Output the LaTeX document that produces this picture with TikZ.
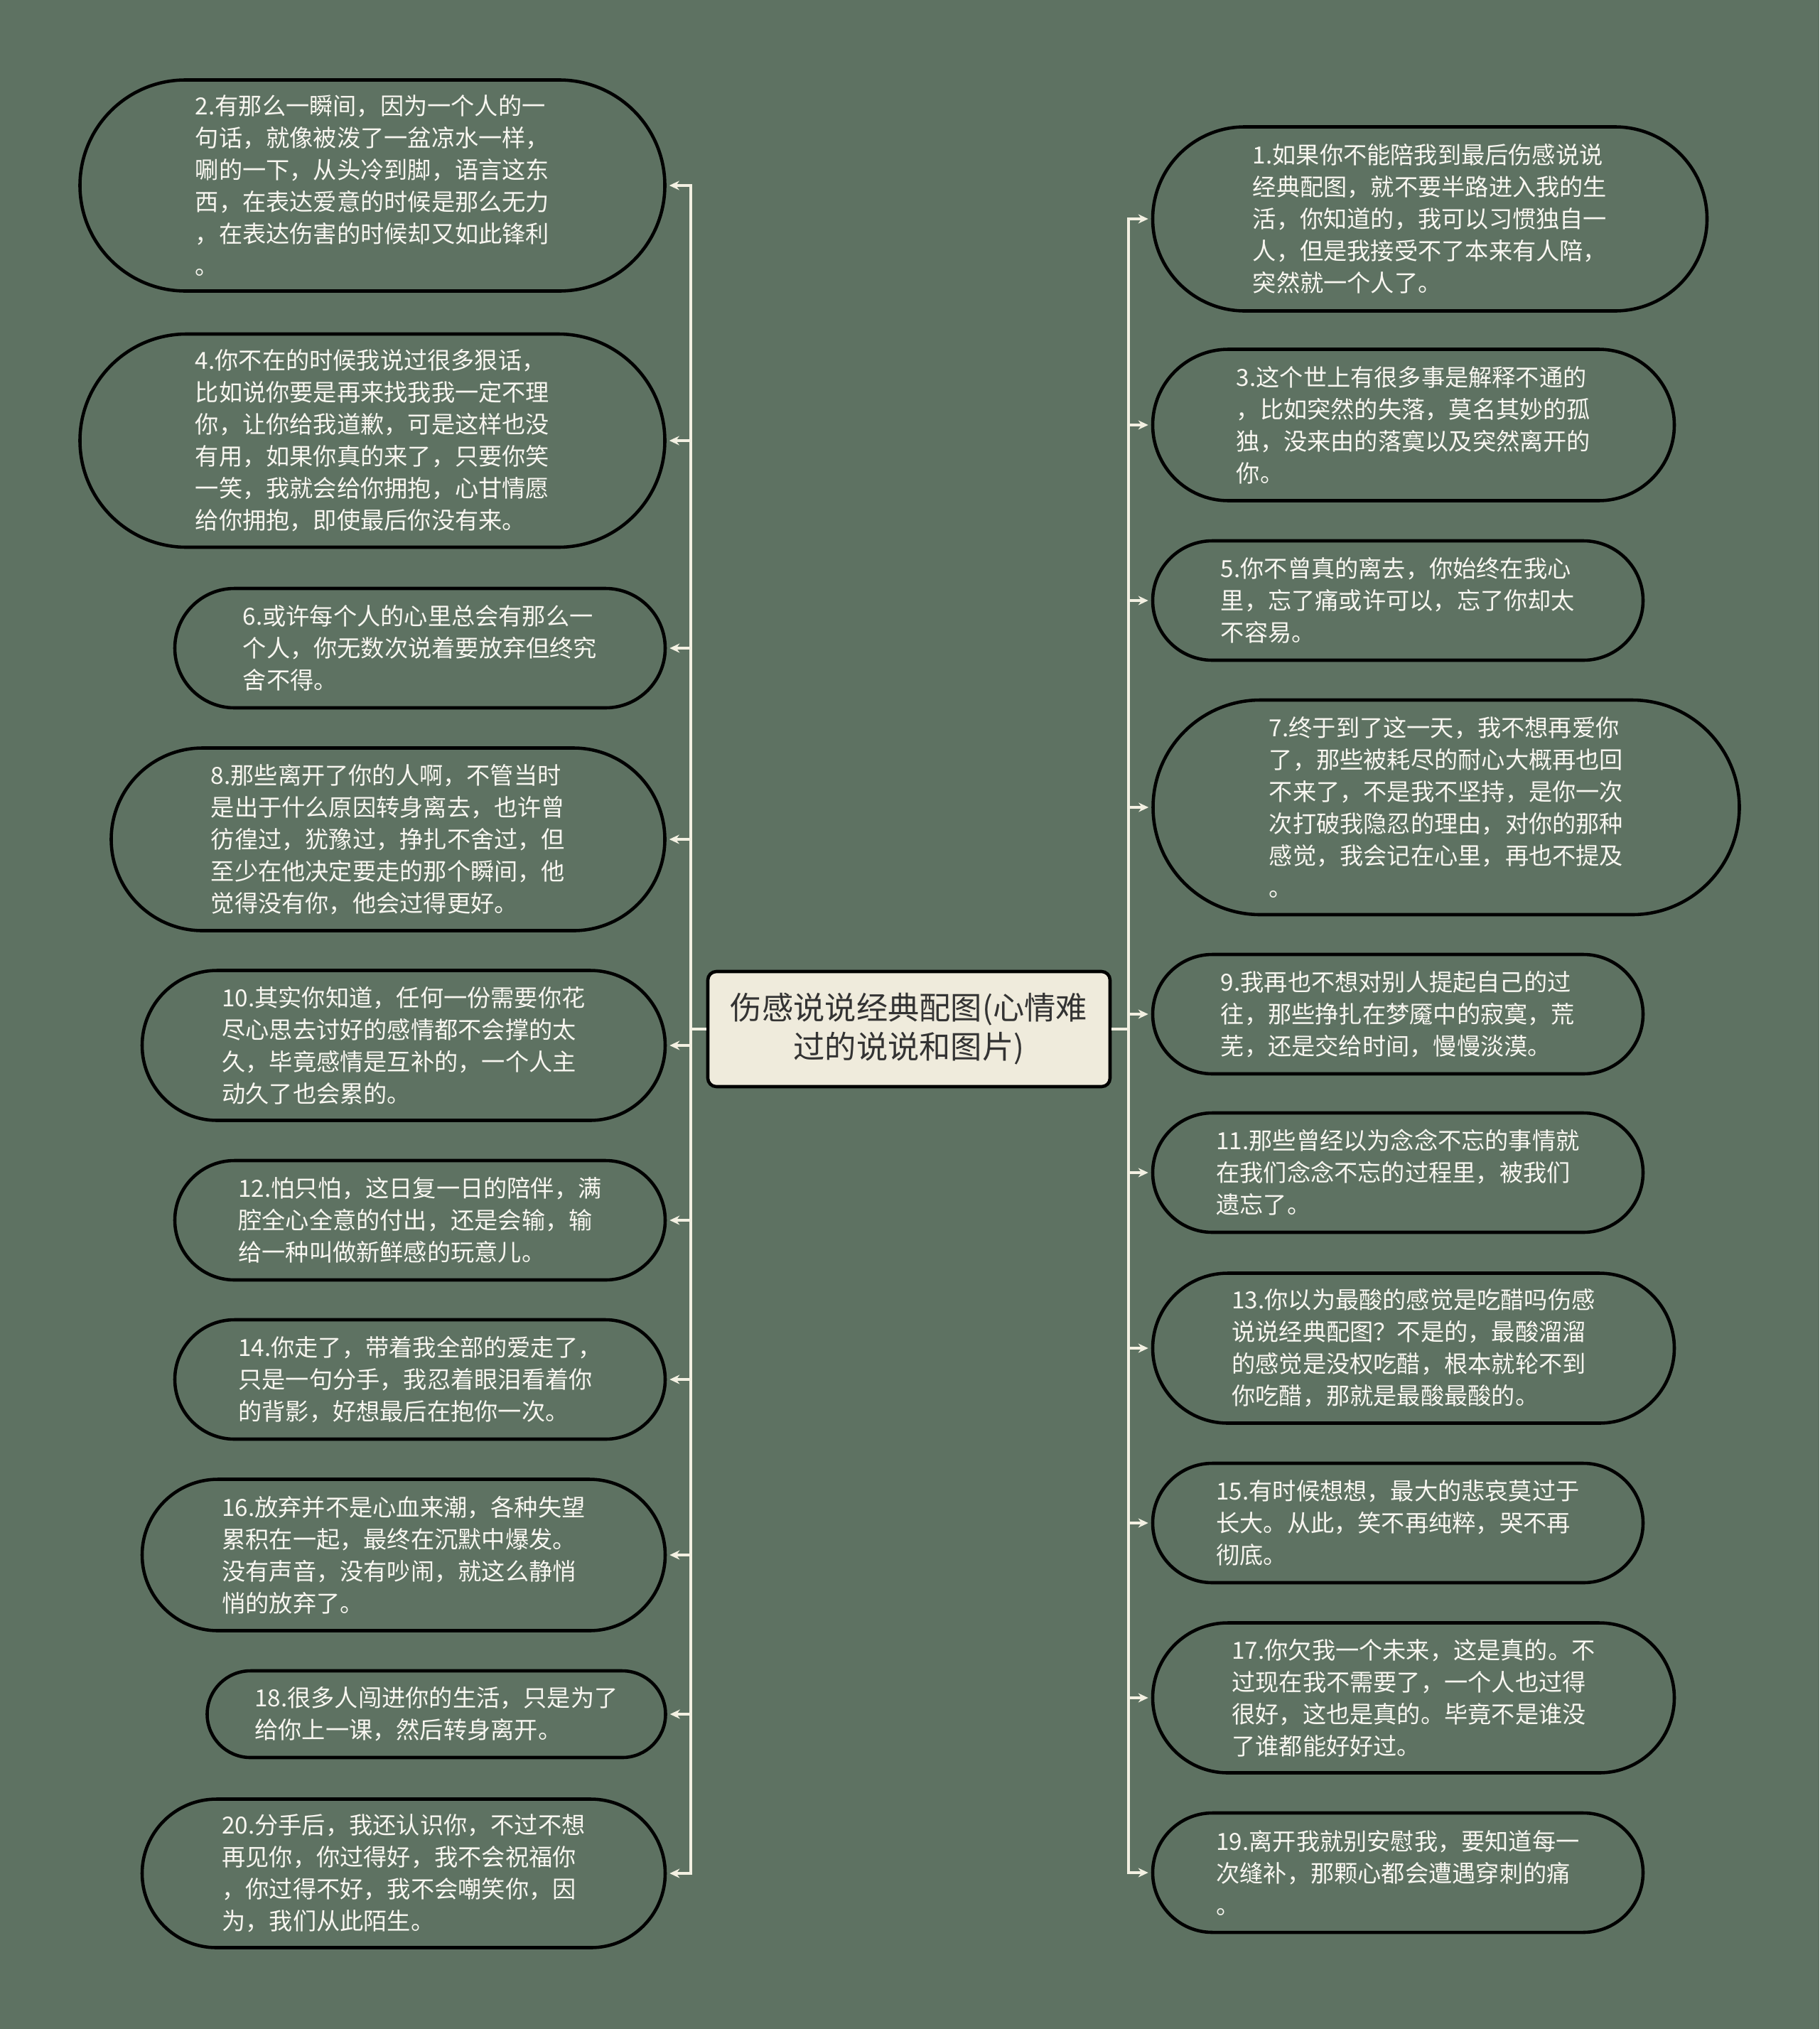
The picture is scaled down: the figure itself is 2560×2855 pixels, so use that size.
\documentclass[tikz,border=0pt]{standalone}
\usepackage{fontspec}
\setmainfont{Noto Sans CJK SC}
\usetikzlibrary{shapes.misc,arrows.meta}
\definecolor{bgcol}{HTML}{5E7262}
\definecolor{linecol}{HTML}{F3F0E2}
\definecolor{rootfill}{HTML}{EFEBDC}
\definecolor{leaftext}{HTML}{F8F6F0}
\tikzset{
  leaf/.style={draw=black,line width=1.3pt,rounded rectangle,fill=bgcol,text=leaftext,align=left,inner sep=0pt,font=\fontsize{9.45}{12.8}\selectfont},
  root/.style={draw=black,line width=1.3pt,rounded corners=1.2mm,fill=rootfill,text=black!80,align=center,minimum width=56.6mm,minimum height=16.2mm,font=\fontsize{12.6}{15.6}\selectfont},
  link/.style={draw=linecol,line width=1.1pt,shorten >=0.4mm,-{Stealth[length=1.4mm,width=1.3mm]}}
}
\begin{document}
\begin{tikzpicture}[x=0.1mm,y=-0.1mm]
  \fill[bgcol] (0,0) rectangle (2560,2855);
  \useasboundingbox (0,0) rectangle (2560,2855);
  \node[root] (root) at (1279,1448) {伤感说说经典配图(心情难\\过的说说和图片)};

  \node[leaf,minimum width=82.3mm,minimum height=29.7mm] (l2) at (524,261) {2.有那么一瞬间，因为一个人的一\\句话，就像被泼了一盆凉水一样，\\唰的一下，从头冷到脚，语言这东\\西，在表达爱意的时候是那么无力\\，在表达伤害的时候却又如此锋利\\。};
  \node[leaf,minimum width=82.3mm,minimum height=30mm] (l4) at (524,620) {4.你不在的时候我说过很多狠话，\\比如说你要是再来找我我一定不理\\你，让你给我道歉，可是这样也没\\有用，如果你真的来了，只要你笑\\一笑，我就会给你拥抱，心甘情愿\\给你拥抱，即使最后你没有来。};
  \node[leaf,minimum width=69mm,minimum height=16.8mm] (l6) at (591,912) {6.或许每个人的心里总会有那么一\\个人，你无数次说着要放弃但终究\\舍不得。};
  \node[leaf,minimum width=77.9mm,minimum height=25.7mm] (l8) at (546,1181) {8.那些离开了你的人啊，不管当时\\是出于什么原因转身离去，也许曾\\彷徨过，犹豫过，挣扎不舍过，但\\至少在他决定要走的那个瞬间，他\\觉得没有你，他会过得更好。};
  \node[leaf,minimum width=73.6mm,minimum height=21.1mm] (l10) at (568,1471) {10.其实你知道，任何一份需要你花\\尽心思去讨好的感情都不会撑的太\\久，毕竟感情是互补的，一个人主\\动久了也会累的。};
  \node[leaf,minimum width=69mm,minimum height=16.8mm] (l12) at (591,1717) {12.怕只怕，这日复一日的陪伴，满\\腔全心全意的付出，还是会输，输\\给一种叫做新鲜感的玩意儿。};
  \node[leaf,minimum width=69mm,minimum height=16.8mm] (l14) at (591,1941) {14.你走了，带着我全部的爱走了，\\只是一句分手，我忍着眼泪看着你\\的背影，好想最后在抱你一次。};
  \node[leaf,minimum width=73.6mm,minimum height=21.3mm] (l16) at (568,2188) {16.放弃并不是心血来潮，各种失望\\累积在一起，最终在沉默中爆发。\\没有声音，没有吵闹，就这么静悄\\悄的放弃了。};
  \node[leaf,minimum width=64.5mm,minimum height=12.2mm] (l18) at (614,2412) {18.很多人闯进你的生活，只是为了\\给你上一课，然后转身离开。};
  \node[leaf,minimum width=73.6mm,minimum height=20.9mm] (l20) at (568,2636) {20.分手后，我还认识你，不过不想\\再见你，你过得好，我不会祝福你\\，你过得不好，我不会嘲笑你，因\\为，我们从此陌生。};

  \node[leaf,minimum width=78mm,minimum height=25.9mm] (r1) at (2012,308) {1.如果你不能陪我到最后伤感说说\\经典配图，就不要半路进入我的生\\活，你知道的，我可以习惯独自一\\人，但是我接受不了本来有人陪，\\突然就一个人了。};
  \node[leaf,minimum width=73.4mm,minimum height=21.3mm] (r3) at (1989,598) {3.这个世上有很多事是解释不通的\\，比如突然的失落，莫名其妙的孤\\独，没来由的落寞以及突然离开的\\你。};
  \node[leaf,minimum width=69mm,minimum height=16.8mm] (r5) at (1967,845) {5.你不曾真的离去，你始终在我心\\里，忘了痛或许可以，忘了你却太\\不容易。};
  \node[leaf,minimum width=82.5mm,minimum height=30.2mm] (r7) at (2035,1136) {7.终于到了这一天，我不想再爱你\\了，那些被耗尽的耐心大概再也回\\不来了，不是我不坚持，是你一次\\次打破我隐忍的理由，对你的那种\\感觉，我会记在心里，再也不提及\\。};
  \node[leaf,minimum width=69mm,minimum height=16.8mm] (r9) at (1967,1427) {9.我再也不想对别人提起自己的过\\往，那些挣扎在梦魇中的寂寞，荒\\芜，还是交给时间，慢慢淡漠。};
  \node[leaf,minimum width=69mm,minimum height=16.8mm] (r11) at (1967,1650) {11.那些曾经以为念念不忘的事情就\\在我们念念不忘的过程里，被我们\\遗忘了。};
  \node[leaf,minimum width=73.4mm,minimum height=21.1mm] (r13) at (1989,1897) {13.你以为最酸的感觉是吃醋吗伤感\\说说经典配图？不是的，最酸溜溜\\的感觉是没权吃醋，根本就轮不到\\你吃醋，那就是最酸最酸的。};
  \node[leaf,minimum width=69mm,minimum height=16.8mm] (r15) at (1967,2143) {15.有时候想想，最大的悲哀莫过于\\长大。从此，笑不再纯粹，哭不再\\彻底。};
  \node[leaf,minimum width=73.4mm,minimum height=21.1mm] (r17) at (1989,2389) {17.你欠我一个未来，这是真的。不\\过现在我不需要了，一个人也过得\\很好，这也是真的。毕竟不是谁没\\了谁都能好好过。};
  \node[leaf,minimum width=69mm,minimum height=16.8mm] (r19) at (1967,2635) {19.离开我就别安慰我，要知道每一\\次缝补，那颗心都会遭遇穿刺的痛\\。};

  \draw[link] (root.west) -- ++(-22,0) |- (l2.east);
  \draw[link] (root.west) -- ++(-22,0) |- (l4.east);
  \draw[link] (root.west) -- ++(-22,0) |- (l6.east);
  \draw[link] (root.west) -- ++(-22,0) |- (l8.east);
  \draw[link] (root.west) -- ++(-22,0) |- (l10.east);
  \draw[link] (root.west) -- ++(-22,0) |- (l12.east);
  \draw[link] (root.west) -- ++(-22,0) |- (l14.east);
  \draw[link] (root.west) -- ++(-22,0) |- (l16.east);
  \draw[link] (root.west) -- ++(-22,0) |- (l18.east);
  \draw[link] (root.west) -- ++(-22,0) |- (l20.east);
  \draw[link] (root.east) -- ++(24,0) |- (r1.west);
  \draw[link] (root.east) -- ++(24,0) |- (r3.west);
  \draw[link] (root.east) -- ++(24,0) |- (r5.west);
  \draw[link] (root.east) -- ++(24,0) |- (r7.west);
  \draw[link] (root.east) -- ++(24,0) |- (r9.west);
  \draw[link] (root.east) -- ++(24,0) |- (r11.west);
  \draw[link] (root.east) -- ++(24,0) |- (r13.west);
  \draw[link] (root.east) -- ++(24,0) |- (r15.west);
  \draw[link] (root.east) -- ++(24,0) |- (r17.west);
  \draw[link] (root.east) -- ++(24,0) |- (r19.west);
\end{tikzpicture}
\end{document}
